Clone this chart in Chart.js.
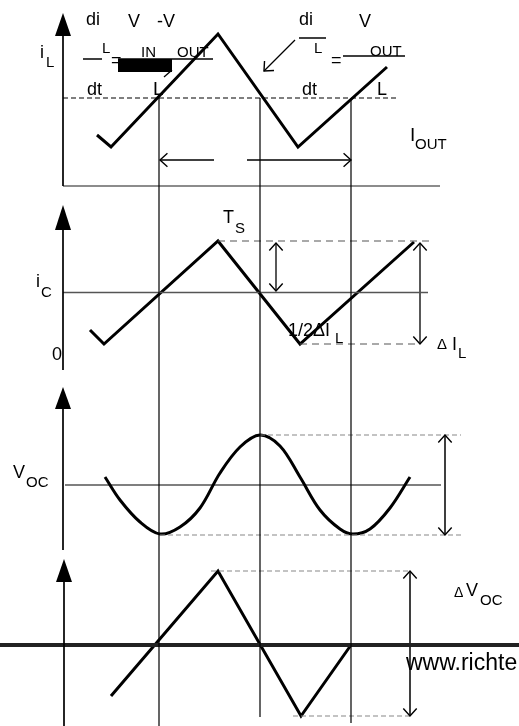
<!DOCTYPE html>
<html><head><meta charset="utf-8">
<script src="https://cdn.jsdelivr.net/npm/chart.js@4/dist/chart.umd.min.js"></script>
<style>html,body{margin:0;padding:0;background:#fff;}canvas{display:block;}</style>
</head><body>
<canvas id="c" width="519" height="726"></canvas>
<script>
// ---- data (diagram units: x = time, y = level; y grows downward) ----
const iLx = [97, 111, 218, 298, 387];
const iLy = [135, 147, 34, 147, 67];
const iCx = [90, 104, 218, 300, 414];
const iCy = [330, 344, 241, 344, 242];
const vocX = [105, 120, 140, 160, 180, 200, 220, 240, 260, 280, 300, 320, 340, 353, 370, 390, 410];
const vocY = [477, 500, 522, 534, 527, 508, 473, 447, 435, 446, 477, 510, 529, 534, 529, 508, 477];
const dVx = [111, 218, 301, 351];
const dVy = [696, 571, 716, 645];
// switching instants (vertical guides)
const tMarks = [159, 260, 351];
const tMarkTop = [98, 98, 98];
const tMarkBottom = [726, 717, 723];
// panel reference levels
const iOutLevel = 98;
const iCZero = 292.5;
const vocMid = 485;
const dVZero = 645;

const C = document.getElementById('c');
const seg = (x1,y1,x2,y2,color,width,dash)=>({
  data:[{x:x1,y:y1},{x:x2,y:y2}], showLine:true, borderColor:color, borderWidth:width,
  borderDash:dash||[], pointRadius:0, fill:false, tension:0, borderCapStyle:'butt'
});
const wave = (xs,ys,smooth)=>({
  data: xs.map((x,i)=>({x:x,y:ys[i]})), showLine:true, borderColor:'#000', borderWidth:3,
  pointRadius:0, fill:false, tension: smooth?0.35:0,
  borderJoinStyle:'miter', borderCapStyle:'butt'
});

const datasets = [];
// vertical axes
datasets.push(seg(63,36,63,186,'#000',1.7));
datasets.push(seg(63,230,63,370,'#000',1.7));
datasets.push(seg(63,409,63,550,'#000',1.7));
datasets.push(seg(64,582,64,726,'#000',1.7));
// time guides
tMarks.forEach((x,i)=>datasets.push(seg(x,tMarkTop[i],x,tMarkBottom[i],'#000',1.2)));
// reference lines
datasets.push(seg(63,186,440,186,'#666',1.6));
datasets.push(seg(63,iOutLevel,397,iOutLevel,'#000',1.2,[5,3]));
datasets.push(seg(63,iCZero,428,iCZero,'#555',1.5));
datasets.push(seg(218,iCy[2],430,iCy[2],'#555',1.2,[7,5]));
datasets.push(seg(300,iCy[3],420,iCy[3],'#555',1.2,[7,5]));
datasets.push(seg(65,vocMid,441,vocMid,'#000',1.2));
datasets.push(seg(260,435,461,435,'#888',1.2,[5,3]));
datasets.push(seg(160,535,461,535,'#888',1.2,[5,3]));
datasets.push(seg(211,dVy[1],410,dVy[1],'#888',1.2,[5,3]));
datasets.push(seg(293,dVy[2],410,dVy[2],'#888',1.2,[5,3]));
datasets.push(seg(0,dVZero,519,dVZero,'#222',4));
// arrow shafts
datasets.push(seg(160,160,214,160,'#000',1.3));
datasets.push(seg(247,160,351,160,'#000',1.3));
datasets.push(seg(295,40,264,71,'#000',1.3));
datasets.push(seg(276,243,276,291,'#000',1.3));
datasets.push(seg(420,243,420,344,'#000',1.3));
datasets.push(seg(445,435,445,535,'#000',1.5));
datasets.push(seg(410,571,410,716,'#000',1.5));
// formula bars
datasets.push(seg(83,59,102,59,'#000',1.5));
datasets.push(seg(118,59,213,59,'#000',1.5));
datasets.push(seg(299,38,326,38,'#000',1.5));
datasets.push(seg(343,56,405,56,'#000',1.5));
datasets.push(seg(172,70,164,77,'#000',1.3));
// waveforms
datasets.push(wave(iLx,iLy));
datasets.push(wave(iCx,iCy));
datasets.push(wave(vocX,vocY,true));
datasets.push(wave(dVx,dVy));

const labels = [
  {t:'i',x:40,y:58,s:18},{t:'L',x:46,y:67,s:15},
  {t:'di',x:86,y:25,s:18},{t:'V',x:128,y:27,s:18},{t:'-V',x:157,y:27,s:18},
  {t:'L',x:102,y:53,s:15},{t:'=',x:111,y:66,s:18},
  {t:'IN',x:141,y:57,s:15},{t:'OUT',x:177,y:57,s:15},
  {t:'dt',x:87,y:95,s:18},{t:'L',x:153,y:95,s:19},
  {t:'di',x:299,y:25,s:18},{t:'V',x:359,y:27,s:18},{t:'L',x:314,y:53,s:15},
  {t:'=',x:331,y:66,s:18},{t:'OUT',x:370,y:56,s:15},
  {t:'dt',x:302,y:95,s:18},{t:'L',x:377,y:95,s:18},
  {t:'I',x:410,y:141,s:19},{t:'OUT',x:415,y:149,s:15},
  {t:'i',x:36,y:287,s:18},{t:'C',x:41,y:297,s:15},
  {t:'0',x:52,y:360,s:18},
  {t:'T',x:223,y:223,s:18},{t:'S',x:235,y:233,s:15},
  {t:'1/2\u0394I',x:288,y:336,s:18},{t:'L',x:335,y:343,s:15},
  {t:'\u0394',x:437,y:349,s:15},{t:'I',x:452,y:350,s:18},{t:'L',x:458,y:358,s:15},
  {t:'V',x:13,y:478,s:18},{t:'OC',x:26,y:487,s:15},
  {t:'\u0394',x:454,y:597,s:14},{t:'V',x:466,y:596,s:18},{t:'OC',x:480,y:605,s:15},
  {t:'www.richte',x:406,y:670,s:23}
];
const openHeads = [ // tip x, tip y, direction angle (deg, 0=right, 90=down)
  [160,160,180],[351,160,0],[264,71,135],
  [276,243,-90],[276,291,90],[420,243,-90],[420,344,90],
  [445,435,-90],[445,535,90],[410,571,-90],[410,716,90]
];
const filledHeads = [[63,13,36],[63,205,230],[63,387,409],[64,559,582]];

const annot = {
  id:'annot',
  beforeDatasetsDraw(chart){
    const {ctx,scales:{x,y}} = chart;
    ctx.save();
    ctx.fillStyle='#000';
    const x1=x.getPixelForValue(118), x2=x.getPixelForValue(172);
    const y1=y.getPixelForValue(59), y2=y.getPixelForValue(72);
    ctx.fillRect(x1,y1,x2-x1,y2-y1);
    ctx.restore();
  },
  afterDatasetsDraw(chart){
    const {ctx,scales:{x,y}} = chart;
    ctx.save();
    ctx.fillStyle='#000';
    filledHeads.forEach(([hx,tip,base])=>{
      const px=x.getPixelForValue(hx);
      ctx.beginPath();
      ctx.moveTo(px,y.getPixelForValue(tip));
      ctx.lineTo(px-8,y.getPixelForValue(base));
      ctx.lineTo(px+8,y.getPixelForValue(base));
      ctx.closePath(); ctx.fill();
    });
    ctx.strokeStyle='#000'; ctx.lineWidth=1.4;
    openHeads.forEach(([hx,hy,a])=>{
      const px=x.getPixelForValue(hx), py=y.getPixelForValue(hy);
      const r=a*Math.PI/180, L=10, h=42*Math.PI/180;
      ctx.beginPath();
      ctx.moveTo(px-L*Math.cos(r-h),py-L*Math.sin(r-h));
      ctx.lineTo(px,py);
      ctx.lineTo(px-L*Math.cos(r+h),py-L*Math.sin(r+h));
      ctx.stroke();
    });
    ctx.textBaseline='alphabetic'; ctx.textAlign='left';
    labels.forEach(l=>{
      ctx.font = l.s+'px "Liberation Sans", Arial, sans-serif';
      ctx.fillText(l.t,x.getPixelForValue(l.x),y.getPixelForValue(l.y));
    });
    ctx.restore();
  }
};

new Chart(C,{
  type:'scatter',
  data:{datasets},
  options:{
    responsive:false, animation:false, devicePixelRatio:1,
    layout:{padding:0},
    plugins:{legend:{display:false},tooltip:{enabled:false},title:{display:false}},
    events:[],
    scales:{
      x:{type:'linear',min:0,max:519,display:false},
      y:{type:'linear',min:0,max:726,reverse:true,display:false}
    }
  },
  plugins:[annot]
});
</script>
</body></html>
